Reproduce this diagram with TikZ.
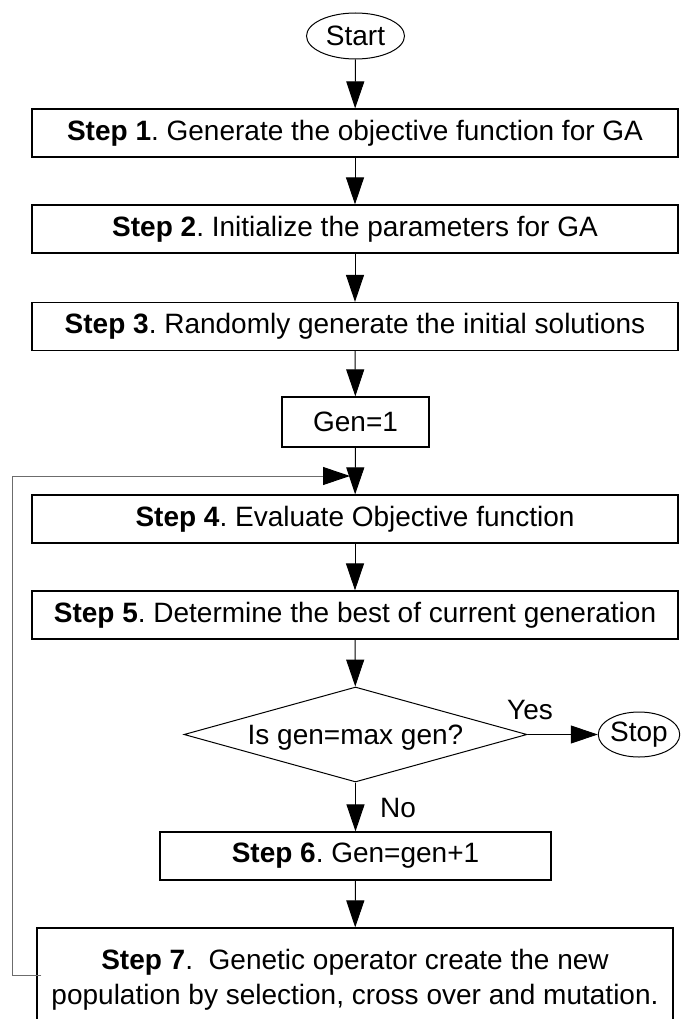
\documentclass[tikz,border=0pt]{standalone}
\usepackage{fontspec}
\setmainfont{Liberation Sans}
\usetikzlibrary{arrows.meta,shapes.geometric}
\frenchspacing
\begin{document}
\begin{tikzpicture}[x=1pt,y=-1pt,
  every node/.style={font=\fontsize{28}{35}\selectfont, inner sep=0pt},
  stepbox/.style={draw=black, line width=1.2pt, rectangle, minimum height=48pt, align=center},
  termnode/.style={draw=black, line width=1pt, ellipse},
  decide/.style={draw=black, line width=1pt, diamond, minimum width=343pt, minimum height=95pt},
  conn/.style={line width=1pt, -{Triangle[length=27pt,width=18pt]}},
  loopline/.style={draw=gray!85!black, line width=1pt, -{Triangle[length=27pt,width=18pt,color=black]}},
  lab/.style={}
]
\clip (0,0) rectangle (688,1019);
\fill[white] (0,0) rectangle (688,1019);

\node[termnode, minimum width=98pt, minimum height=46pt] (start) at (355.5,36) {Start};
\node[stepbox, minimum width=646pt] (s1) at (355,133) {\textbf{Step 1}. Generate the objective function for GA};
\node[stepbox, minimum width=646pt] (s2) at (355,229) {\textbf{Step 2}. Initialize the parameters for GA};
\node[stepbox, minimum width=646pt] (s3) at (355,326.5) {\textbf{Step 3}. Randomly generate the initial solutions};
\node[stepbox, minimum width=147pt, minimum height=50pt] (g1) at (355.5,422) {Gen=1};
\node[stepbox, minimum width=646pt] (s4) at (355,519) {\textbf{Step 4}. Evaluate Objective function};
\node[stepbox, minimum width=646pt] (s5) at (355,615) {\textbf{Step 5}. Determine the best of current generation};
\node[decide] (d) at (355.5,734.5) {};
\node (dtext) at (355.5,738) {Is gen=max gen?};
\node[termnode, minimum width=80pt, minimum height=45pt] (stop) at (639,734.5) {Stop};
\node[stepbox, minimum width=391pt] (s6) at (355.5,856) {\textbf{Step 6}. Gen=gen+1};
\node[stepbox, minimum width=636pt, minimum height=103pt] (s7) at (355,979.5) {\textbf{Step 7}.\ \ Genetic operator create the new\\population by selection, cross over and mutation.};

\node[lab] (yes) at (530,710) {Yes};
\node[lab] (no) at (398,808) {No};

\coordinate (loopend) at (350,476);

\draw[conn] (start) -- (s1);
\draw[conn] (s1) -- (s2);
\draw[conn] (s2) -- (s3);
\draw[conn] (s3) -- (g1);
\draw[conn] (g1) -- (s4);
\draw[conn] (s4) -- (s5);
\draw[conn] (s5) -- (d);
\draw[conn] (d.east) -- (stop.west);
\draw[conn] (d) -- (s6);
\draw[conn] (s6) -- (s7);
\draw[loopline] ([xshift=5pt,yshift=4.5pt]s7.west) -- ++(-29,0) |- (loopend);
\end{tikzpicture}
\end{document}
